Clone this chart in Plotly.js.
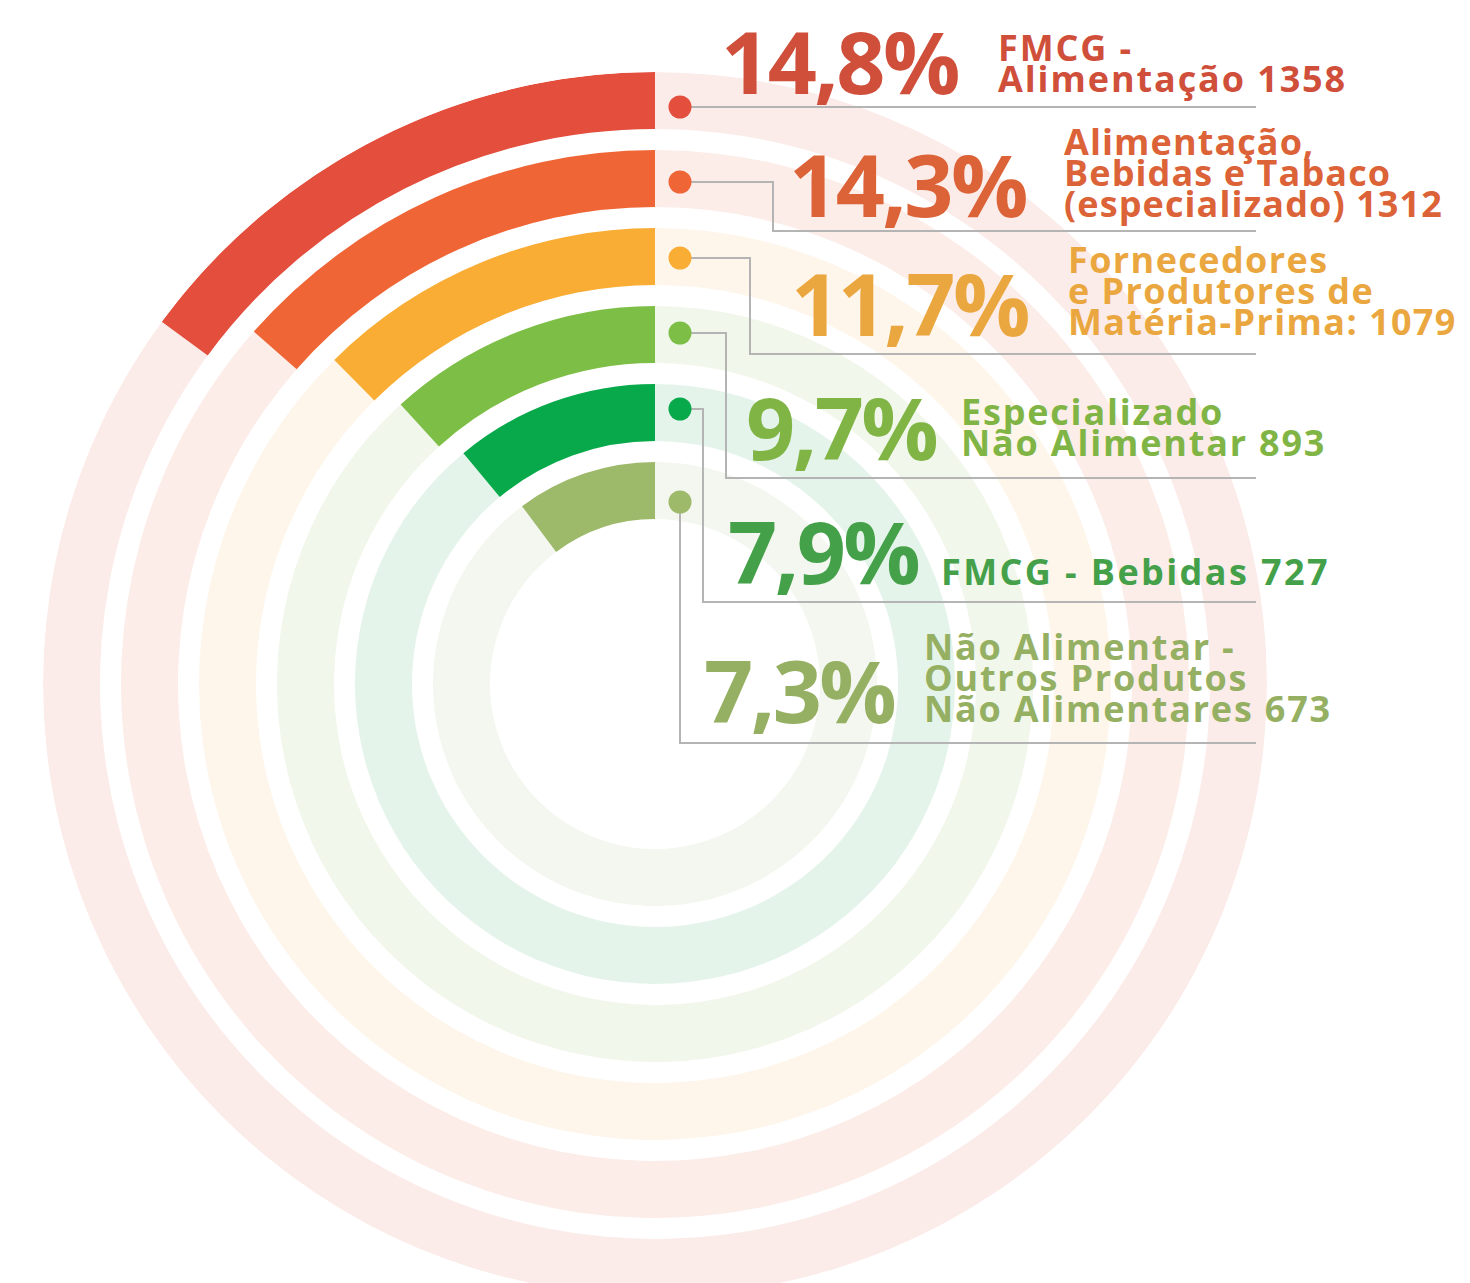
<!DOCTYPE html>
<html>
<head>
<meta charset="utf-8">
<script src="https://cdn.plot.ly/plotly-3.0.1.min.js"></script>
<style>
  html, body { margin: 0; padding: 0; background: #ffffff; overflow: hidden; }
  #wrap { width: 1470px; height: 1283px; overflow: hidden; }
</style>
</head>
<body>
<div id="wrap"><div id="chart"></div></div>
<script>
// ---------------- DATA ----------------
const categories = [
  "FMCG - Alimentação",
  "Alimentação, Bebidas e Tabaco (especializado)",
  "Fornecedores e Produtores de Matéria-Prima",
  "Especializado Não Alimentar",
  "FMCG - Bebidas",
  "Não Alimentar - Outros Produtos Não Alimentares"
];
const shareValues = [14.8, 14.3, 11.7, 9.7, 7.9, 7.3];
const shareLabels = ["14,8%", "14,3%", "11,7%", "9,7%", "7,9%", "7,3%"];
const counts = [1358, 1312, 1079, 893, 727, 673];
// angular sweep of each coloured arc as drawn in the picture (degrees)
const arcSweepDeg = [53.7, 48.7, 44.7, 42.3, 39.7, 36.8];
// label text split into lines as printed
const labelLines = [
  ["FMCG -", "Alimentação"],
  ["Alimentação,", "Bebidas e Tabaco", "(especializado)"],
  ["Fornecedores", "e Produtores de", "Matéria-Prima:"],
  ["Especializado", "Não Alimentar"],
  ["FMCG - Bebidas"],
  ["Não Alimentar -", "Outros Produtos", "Não Alimentares"]
];

// ---------------- STYLE ----------------
const barColors  = ["#e34e3d", "#ef6535", "#f9ad35", "#7dbf46", "#08a94b", "#9db96a"];
const paleColors = ["#fcece9", "#fcede8", "#fef6eb", "#f1f7eb", "#e5f4ea", "#f3f7ef"];
const textColors = ["#cf4f3b", "#dc6237", "#eba73f", "#80b546", "#45a04a", "#96b063"];

const W = 1470, H = 1300;         // plot is 1300 tall, clipped to 1283 by the wrapper
const CX = 655, CY = 684, R = 612; // pixel centre and outer radius of the rings
const STEP = 78, THICK = 57;

const px = x => x / W;
const py = y => 1 - y / H;

// ---------------- TRACES ----------------
const traces = [];
shareValues.forEach((v, i) => {
  const outer = R - STEP * i;
  const sweep = arcSweepDeg[i];
  traces.push({
    type: "barpolar",
    r: [THICK], base: [outer - THICK],
    theta: [sweep + (360 - sweep) / 2], width: [360 - sweep],
    marker: { color: paleColors[i], line: { width: 0 } },
    hoverinfo: "skip", showlegend: false
  });
  traces.push({
    type: "barpolar",
    r: [THICK], base: [outer - THICK],
    theta: [sweep / 2], width: [sweep],
    marker: { color: barColors[i], line: { width: 0 } },
    name: categories[i],
    text: [shareLabels[i]],
    hoverinfo: "name+text", showlegend: false
  });
});

// ---------------- LEADERS, DOTS ----------------
const dotY = [107, 182, 258, 333, 409, 502];
const DOTX = 680, DOTR = 11.5;
const leaderPaths = [
  [[680,107],[1256,107]],
  [[680,182],[773,182],[773,231],[1256,231]],
  [[680,258],[750,258],[750,354],[1256,354]],
  [[680,333],[726,333],[726,478],[1256,478]],
  [[680,409],[703,409],[703,602],[1256,602]],
  [[680,502],[680,743],[1256,743]]
];
const shapes = [];
leaderPaths.forEach(pts => {
  const d = pts.map((p, k) => (k ? "L" : "M") + px(p[0]).toFixed(5) + "," + py(p[1]).toFixed(5)).join(" ");
  shapes.push({ type: "path", xref: "paper", yref: "paper", path: d,
    line: { color: "#b4b4b4", width: 2 } });
});
dotY.forEach((y, i) => {
  shapes.push({ type: "circle", xref: "paper", yref: "paper",
    x0: px(DOTX - DOTR), x1: px(DOTX + DOTR), y0: py(y + DOTR), y1: py(y - DOTR),
    fillcolor: barColors[i], line: { width: 0 } });
});

// ---------------- TEXT ----------------
const FONT = "'Open Sans', 'DejaVu Sans', sans-serif";
const NUM_SIZE = 86, LAB_SIZE = 36, LINE_GAP = 31;
const NUM_SPACING = "-2.5px";
const labSpacing = ["1.9px", "1.1px", "1.4px", "1.8px", "2.4px", "1.8px"];
const numX = [720, 788, 790, 745, 727, 703];
const numBase = [94, 217, 336, 460, 584, 723];
const labX = [997, 1063, 1067, 960, 940, 923];
const labBase0 = [61, 155, 273, 425, 585, 660];

const spaced = (t, s) => '<span style="letter-spacing:' + s + '">' + t + '</span>';

const annotations = [];
shareLabels.forEach((t, i) => {
  annotations.push({
    xref: "paper", yref: "paper", x: px(numX[i]), y: py(numBase[i] - 0.388 * NUM_SIZE),
    xanchor: "left", yanchor: "middle", align: "left", showarrow: false,
    text: spaced(t, NUM_SPACING), borderpad: 0,
    font: { family: FONT, size: NUM_SIZE, color: textColors[i], weight: 700 }
  });
  const lines = labelLines[i].slice();
  lines[lines.length - 1] = lines[lines.length - 1] + " " + counts[i];
  lines.forEach((ln, k) => {
    annotations.push({
      xref: "paper", yref: "paper", x: px(labX[i]), y: py(labBase0[i] + k * LINE_GAP - 0.388 * LAB_SIZE),
      xanchor: "left", yanchor: "middle", align: "left", showarrow: false,
      text: spaced(ln, labSpacing[i]), borderpad: 0,
      font: { family: FONT, size: LAB_SIZE, color: textColors[i], weight: 700 }
    });
  });
});

const layout = {
  width: W, height: H,
  margin: { l: 0, r: 0, t: 0, b: 0, pad: 0 },
  paper_bgcolor: "#ffffff", plot_bgcolor: "#ffffff",
  showlegend: false,
  polar: {
    domain: { x: [px(CX - R), px(CX + R)], y: [py(CY + R), py(CY - R)] },
    bgcolor: "rgba(0,0,0,0)",
    hole: 0,
    radialaxis: { visible: false, range: [0, R] },
    angularaxis: { visible: false, rotation: 90, direction: "counterclockwise" }
  },
  shapes: shapes,
  annotations: annotations
};

Plotly.newPlot("chart", traces, layout, { displayModeBar: false, staticPlot: true });
</script>
</body>
</html>
